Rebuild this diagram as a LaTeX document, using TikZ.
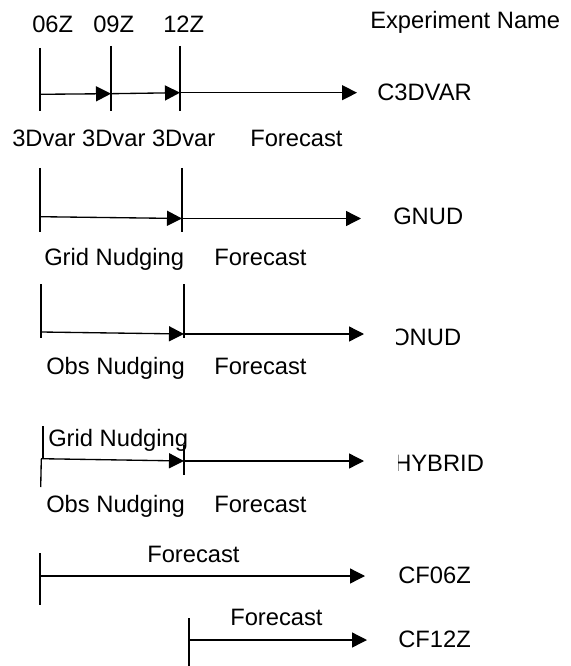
\documentclass[tikz,border=0pt]{standalone}
\usepackage{fontspec}
\setmainfont{Liberation Sans}
\usetikzlibrary{arrows.meta}
\begin{document}
\begin{tikzpicture}[x=0.75pt,y=-0.75pt,
  lbl/.style={anchor=base west,inner sep=0pt,font=\fontsize{17.8pt}{20pt}\selectfont},
  tick/.style={line width=1pt},
  arr/.style={line width=1pt,-{Triangle[length=11.25pt,width=11.25pt]}}]
\useasboundingbox[fill=white] (0,0) rectangle (570,666);
% header
\node[lbl] (t06) at (32,33) {06Z};
\node[lbl] (t09) at (93,33) {09Z};
\node[lbl] (t12) at (163,33) {12Z};
\node[lbl] (exp) at (370,29) {Experiment Name};
% row 1 C3DVAR
\coordinate (a1) at (40,94.3); \coordinate (b1) at (111,93.7); \coordinate (c1) at (180,92.7); \coordinate (e1) at (357,92.7);
\draw[tick] (40,48) -- (40,111);
\draw[tick] (111,46) -- (111,111);
\draw[tick] (180,46) -- (180,111);
\draw[arr] (a1) -- (b1);
\draw[arr] (b1) -- (c1);
\draw[arr] (c1) -- (e1);
\node[lbl] (n1) at (377,100.5) {C3DVAR};
\node[lbl] (v1) at (12,147) {3Dvar 3Dvar 3Dvar};
\node[lbl] (f1) at (250,147) {Forecast};
% row 2 GNUD
\coordinate (a2) at (40,216.7); \coordinate (c2) at (182,218.5); \coordinate (e2) at (361,218.5);
\draw[tick] (40,168) -- (40,232);
\draw[tick] (182,168) -- (182,232.5);
\draw[arr] (a2) -- (c2);
\draw[arr] (c2) -- (e2);
\node[lbl] (n2) at (393,224.5) {GNUD};
\node[lbl] (g2) at (44,266) {Grid Nudging};
\node[lbl] (f2) at (214,266) {Forecast};
% row 3 ONUD
\coordinate (a3) at (41,332); \coordinate (c3) at (184,334); \coordinate (e3) at (364,334);
\draw[tick] (41,284) -- (41,338);
\draw[tick] (184,284) -- (184,338);
\draw[arr] (a3) -- (c3);
\draw[arr] (c3) -- (e3);
\begin{scope}
\clip (396,310) rectangle (480,360);
\node[lbl] (n3) at (391,345.6) {ONUD};
\end{scope}
\node[lbl] (o3) at (46,374) {Obs Nudging};
\node[lbl] (f3) at (214,374) {Forecast};
% row 4 HYBRID
\coordinate (a4) at (41,458.7); \coordinate (c4) at (184,461); \coordinate (e4) at (364,461);
\draw[tick] (43,426) -- (43,459);
\draw[tick] (41.3,459) -- (40.7,487);
\draw[tick] (184,445) -- (184,475);
\draw[arr] (a4) -- (c4);
\draw[arr] (c4) -- (e4);
\node[lbl] (g4) at (48,446) {Grid Nudging};
\begin{scope}
\clip (398,440) rectangle (500,485);
\node[lbl] (n4) at (394,471) {HYBRID};
\end{scope}
\node[lbl] (o4) at (46,512) {Obs Nudging};
\node[lbl] (f4) at (214,512) {Forecast};
% row 5 CF06Z
\coordinate (a5) at (40,576); \coordinate (e5) at (365,576);
\draw[tick] (40,553) -- (40,605);
\draw[arr] (a5) -- (e5);
\node[lbl] (f5) at (147,562) {Forecast};
\node[lbl] (n5) at (398,583) {CF06Z};
% row 6 CF12Z
\coordinate (a6) at (189,640); \coordinate (e6) at (367,640);
\draw[tick] (189,618) -- (189,666);
\draw[arr] (a6) -- (e6);
\node[lbl] (f6) at (230,625) {Forecast};
\node[lbl] (n6) at (398,647) {CF12Z};
\end{tikzpicture}
\end{document}
